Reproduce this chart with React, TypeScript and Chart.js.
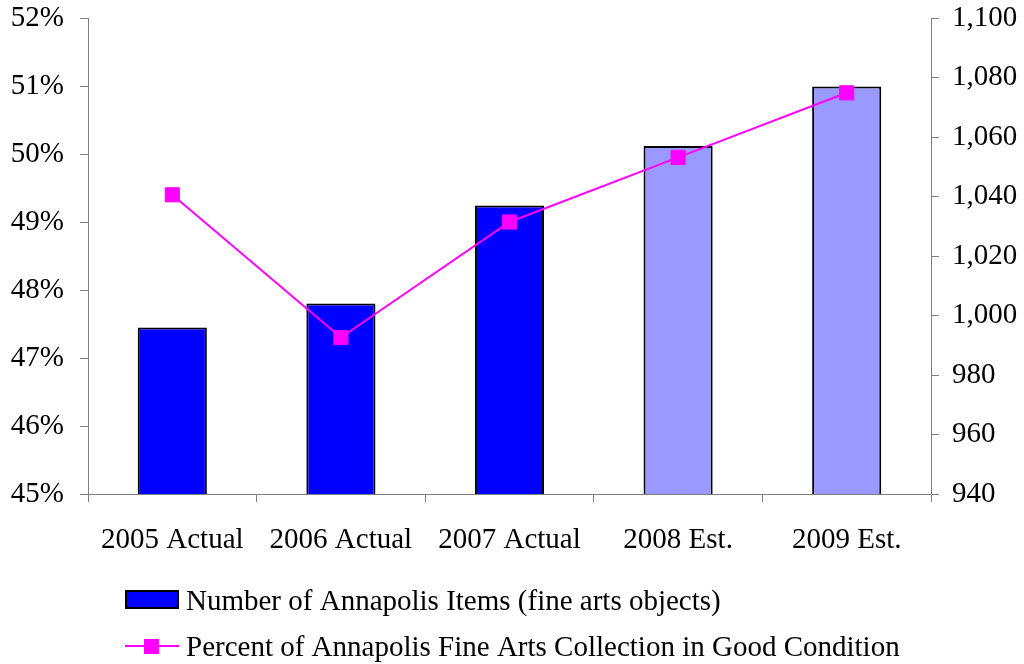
import React, { useEffect, useRef } from "react";
import { Chart, registerables } from "chart.js";

Chart.register(...registerables);

const categories = ["2005 Actual", "2006 Actual", "2007 Actual", "2008 Est.", "2009 Est."];
const itemCounts = [996, 1004, 1037, 1057, 1077];
const goodConditionPct = [49.4, 47.3, 49.0, 49.95, 50.9];
const barColors = ["#0000FF", "#0000FF", "#0000FF", "#9999FF", "#9999FF"];
const barLabel = "Number of Annapolis Items (fine arts objects)";
const lineLabel = "Percent of Annapolis Fine Arts Collection in Good Condition";

const FONT = "'Liberation Serif', 'Times New Roman', serif";
const FS = 29;

const legendPlugin = {
  id: "customLegend",
  afterDraw(chart: any) {
    const ctx = chart.ctx;
    ctx.save();
    // bar item
    ctx.fillStyle = "#0000FF";
    ctx.fillRect(125, 590, 54, 19);
    ctx.strokeStyle = "#000000";
    ctx.lineWidth = 2;
    ctx.strokeRect(126, 591, 52, 17);
    ctx.font = `${FS}px ${FONT}`;
    ctx.fillStyle = "#000000";
    ctx.textBaseline = "alphabetic";
    ctx.textAlign = "left";
    ctx.fillText(barLabel, 186, 610);
    // line item
    ctx.strokeStyle = "#FF00FF";
    ctx.lineWidth = 2;
    ctx.beginPath();
    ctx.moveTo(125, 646);
    ctx.lineTo(179, 646);
    ctx.stroke();
    ctx.fillStyle = "#FF00FF";
    ctx.fillRect(144, 639, 15, 15);
    ctx.fillStyle = "#000000";
    ctx.fillText(lineLabel, 186, 656);
    ctx.restore();
  },
};

const noVerticalPadding = (scale: any) => {
  scale.paddingTop = 0;
  scale.paddingBottom = 0;
};

export default function App() {
  const ref = useRef<HTMLCanvasElement | null>(null);
  useEffect(() => {
    if (!ref.current) return;
    const chart = new Chart(ref.current, {
      type: "bar",
      data: {
        labels: categories,
        datasets: [
          {
            type: "line",
            label: lineLabel,
            data: goodConditionPct,
            yAxisID: "yPct",
            borderColor: "#FF00FF",
            backgroundColor: "#FF00FF",
            borderWidth: 2,
            pointStyle: "rect",
            pointRadius: 10,
            pointBorderWidth: 1,
            pointBackgroundColor: "#FF00FF",
            pointBorderColor: "#FF00FF",
            tension: 0,
            order: 0,
          } as any,
          {
            type: "bar",
            label: barLabel,
            data: itemCounts,
            yAxisID: "yCount",
            backgroundColor: barColors,
            borderColor: "#000000",
            borderWidth: 2,
            barPercentage: 0.41,
            categoryPercentage: 1,
            order: 1,
          } as any,
        ],
      },
      options: {
        animation: false,
        responsive: false,
        maintainAspectRatio: false,
        layout: { padding: { top: 18, bottom: 110, left: 0, right: 0 } },
        plugins: { legend: { display: false }, tooltip: { enabled: false } },
        scales: {
          x: {
            offset: true,
            grid: {
              offset: true,
              drawOnChartArea: false,
              drawTicks: true,
              tickLength: 8,
              color: "#808080",
            },
            border: { display: true, color: "#808080", width: 1 },
            ticks: {
              color: "#000000",
              font: { family: FONT, size: FS },
              padding: 21,
              maxRotation: 0,
              autoSkip: false,
            },
            afterFit(scale: any) {
              scale.height = 60;
              scale.paddingLeft = 0;
              scale.paddingRight = 0;
            },
          },
          yPct: {
            position: "left",
            min: 45,
            max: 52,
            ticks: {
              stepSize: 1,
              color: "#000000",
              font: { family: FONT, size: FS },
              padding: 16,
              callback: (v: any) => `${v}%`,
            },
            grid: {
              drawOnChartArea: false,
              drawTicks: true,
              tickLength: 8,
              color: "#808080",
            },
            border: { display: true, color: "#808080", width: 1 },
            afterFit(scale: any) {
              scale.width = 88;
              noVerticalPadding(scale);
            },
          },
          yCount: {
            position: "right",
            min: 940,
            max: 1100,
            ticks: {
              stepSize: 20,
              color: "#000000",
              font: { family: FONT, size: FS },
              padding: 13,
              callback: (v: any) => Number(v).toLocaleString("en-US"),
            },
            grid: {
              drawOnChartArea: false,
              drawTicks: true,
              tickLength: 8,
              color: "#808080",
            },
            border: { display: true, color: "#808080", width: 1 },
            afterFit(scale: any) {
              scale.width = 93;
              noVerticalPadding(scale);
            },
          },
        },
      },
      plugins: [legendPlugin],
    });
    return () => chart.destroy();
  }, []);
  return (
    <div style={{ position: "fixed", left: 0, top: 0, width: 1024, height: 664, background: "#fff" }}>
      <canvas ref={ref} width={1024} height={664} style={{ width: 1024, height: 664 }} />
    </div>
  );
}
